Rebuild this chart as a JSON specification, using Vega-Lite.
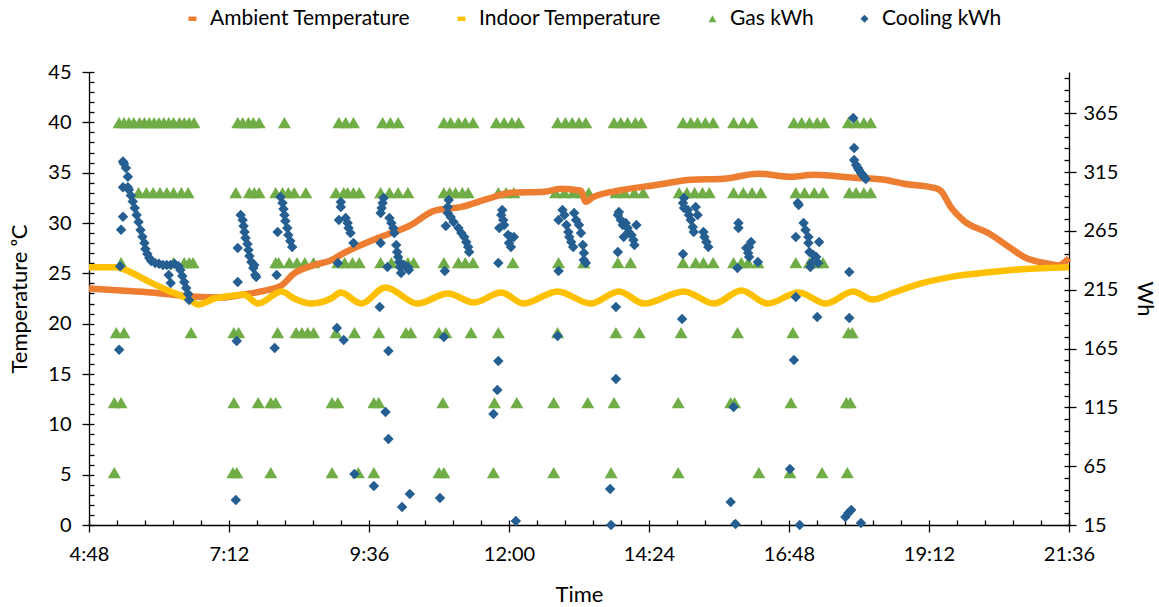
{
"$schema": "https://vega.github.io/schema/vega-lite/v6.json",
"width": 980, "height": 453,
"autosize": "none",
"padding": {"left": 89, "top": 72, "right": 90, "bottom": 81},
"background": "white",
"datasets": {
"amb": [{"t":288,"v":23.5},{"t":321,"v":23.3},{"t":352,"v":23.1},{"t":393,"v":22.7},{"t":424,"v":22.6},{"t":447,"v":22.9},{"t":470,"v":23.3},{"t":486,"v":23.8},{"t":499,"v":25.0},{"t":519,"v":25.8},{"t":537,"v":26.3},{"t":550,"v":27.0},{"t":585,"v":28.5},{"t":619,"v":29.8},{"t":643,"v":31.2},{"t":671,"v":31.6},{"t":698,"v":32.4},{"t":722,"v":33.0},{"t":756,"v":33.1},{"t":773,"v":33.4},{"t":794,"v":33.2},{"t":799,"v":32.1},{"t":807,"v":32.6},{"t":838,"v":33.3},{"t":873,"v":33.8},{"t":907,"v":34.3},{"t":941,"v":34.4},{"t":976,"v":34.9},{"t":1010,"v":34.6},{"t":1034,"v":34.8},{"t":1075,"v":34.5},{"t":1106,"v":34.3},{"t":1126,"v":33.9},{"t":1157,"v":33.5},{"t":1164,"v":33.2},{"t":1175,"v":31.5},{"t":1188,"v":30.2},{"t":1213,"v":29.0},{"t":1236,"v":27.5},{"t":1250,"v":26.6},{"t":1278,"v":25.9},{"t":1285,"v":25.8},{"t":1296,"v":26.5}],
"ind": [{"t":288,"v":25.6},{"t":316,"v":25.6},{"t":324,"v":25.4},{"t":349,"v":24.2},{"t":369,"v":23.3},{"t":393,"v":22.3},{"t":400,"v":21.9},{"t":417,"v":22.5},{"t":437,"v":22.8},{"t":447,"v":22.9},{"t":462,"v":22.0},{"t":486,"v":23.2},{"t":499,"v":22.5},{"t":516,"v":22.0},{"t":537,"v":22.5},{"t":547,"v":23.1},{"t":568,"v":22.0},{"t":593,"v":23.6},{"t":626,"v":22.0},{"t":657,"v":23.0},{"t":684,"v":22.1},{"t":712,"v":23.1},{"t":735,"v":22.0},{"t":770,"v":23.2},{"t":804,"v":22.0},{"t":833,"v":23.2},{"t":859,"v":22.0},{"t":900,"v":23.2},{"t":931,"v":22.0},{"t":959,"v":23.3},{"t":986,"v":22.0},{"t":1018,"v":23.1},{"t":1046,"v":22.0},{"t":1074,"v":23.2},{"t":1094,"v":22.4},{"t":1113,"v":23.0},{"t":1144,"v":24.0},{"t":1178,"v":24.7},{"t":1213,"v":25.1},{"t":1247,"v":25.4},{"t":1296,"v":25.6}],
"gas": [
{"t":319,"v":357,"s":"Gas kWh"},{"t":324,"v":357,"s":"Gas kWh"},{"t":329,"v":357,"s":"Gas kWh"},{"t":334,"v":357,"s":"Gas kWh"},{"t":340,"v":357,"s":"Gas kWh"},{"t":345,"v":357,"s":"Gas kWh"},{"t":350,"v":357,"s":"Gas kWh"},{"t":355,"v":357,"s":"Gas kWh"},{"t":360,"v":357,"s":"Gas kWh"},{"t":365,"v":357,"s":"Gas kWh"},{"t":370,"v":357,"s":"Gas kWh"},{"t":375,"v":357,"s":"Gas kWh"},{"t":381,"v":357,"s":"Gas kWh"},{"t":386,"v":357,"s":"Gas kWh"},{"t":391,"v":357,"s":"Gas kWh"},{"t":396,"v":357,"s":"Gas kWh"},{"t":441,"v":357,"s":"Gas kWh"},{"t":446,"v":357,"s":"Gas kWh"},{"t":452,"v":357,"s":"Gas kWh"},{"t":457,"v":357,"s":"Gas kWh"},{"t":463,"v":357,"s":"Gas kWh"},{"t":489,"v":357,"s":"Gas kWh"},{"t":545,"v":357,"s":"Gas kWh"},{"t":552,"v":357,"s":"Gas kWh"},{"t":560,"v":357,"s":"Gas kWh"},{"t":590,"v":357,"s":"Gas kWh"},{"t":598,"v":357,"s":"Gas kWh"},{"t":606,"v":357,"s":"Gas kWh"},{"t":653,"v":357,"s":"Gas kWh"},{"t":660,"v":357,"s":"Gas kWh"},{"t":668,"v":357,"s":"Gas kWh"},{"t":675,"v":357,"s":"Gas kWh"},{"t":683,"v":357,"s":"Gas kWh"},{"t":707,"v":357,"s":"Gas kWh"},{"t":715,"v":357,"s":"Gas kWh"},{"t":723,"v":357,"s":"Gas kWh"},{"t":730,"v":357,"s":"Gas kWh"},{"t":770,"v":357,"s":"Gas kWh"},{"t":778,"v":357,"s":"Gas kWh"},{"t":785,"v":357,"s":"Gas kWh"},{"t":792,"v":357,"s":"Gas kWh"},{"t":799,"v":357,"s":"Gas kWh"},{"t":828,"v":357,"s":"Gas kWh"},{"t":835,"v":357,"s":"Gas kWh"},{"t":842,"v":357,"s":"Gas kWh"},{"t":850,"v":357,"s":"Gas kWh"},{"t":856,"v":357,"s":"Gas kWh"},{"t":899,"v":357,"s":"Gas kWh"},{"t":907,"v":357,"s":"Gas kWh"},{"t":914,"v":357,"s":"Gas kWh"},{"t":922,"v":357,"s":"Gas kWh"},{"t":930,"v":357,"s":"Gas kWh"},{"t":951,"v":357,"s":"Gas kWh"},{"t":961,"v":357,"s":"Gas kWh"},{"t":970,"v":357,"s":"Gas kWh"},{"t":1013,"v":357,"s":"Gas kWh"},{"t":1021,"v":357,"s":"Gas kWh"},{"t":1029,"v":357,"s":"Gas kWh"},{"t":1037,"v":357,"s":"Gas kWh"},{"t":1044,"v":357,"s":"Gas kWh"},{"t":1069,"v":357,"s":"Gas kWh"},{"t":1077,"v":357,"s":"Gas kWh"},{"t":1085,"v":357,"s":"Gas kWh"},{"t":1092,"v":357,"s":"Gas kWh"},
{"t":339,"v":297.5,"s":"Gas kWh"},{"t":347,"v":297.5,"s":"Gas kWh"},{"t":354,"v":297.5,"s":"Gas kWh"},{"t":361,"v":297.5,"s":"Gas kWh"},{"t":368,"v":297.5,"s":"Gas kWh"},{"t":375,"v":297.5,"s":"Gas kWh"},{"t":383,"v":297.5,"s":"Gas kWh"},{"t":390,"v":297.5,"s":"Gas kWh"},{"t":439,"v":297.5,"s":"Gas kWh"},{"t":453,"v":297.5,"s":"Gas kWh"},{"t":458,"v":297.5,"s":"Gas kWh"},{"t":463,"v":297.5,"s":"Gas kWh"},{"t":480,"v":297.5,"s":"Gas kWh"},{"t":487,"v":297.5,"s":"Gas kWh"},{"t":493,"v":297.5,"s":"Gas kWh"},{"t":499,"v":297.5,"s":"Gas kWh"},{"t":511,"v":297.5,"s":"Gas kWh"},{"t":542,"v":297.5,"s":"Gas kWh"},{"t":550,"v":297.5,"s":"Gas kWh"},{"t":554,"v":297.5,"s":"Gas kWh"},{"t":560,"v":297.5,"s":"Gas kWh"},{"t":566,"v":297.5,"s":"Gas kWh"},{"t":588,"v":297.5,"s":"Gas kWh"},{"t":597,"v":297.5,"s":"Gas kWh"},{"t":606,"v":297.5,"s":"Gas kWh"},{"t":616,"v":297.5,"s":"Gas kWh"},{"t":653,"v":297.5,"s":"Gas kWh"},{"t":659,"v":297.5,"s":"Gas kWh"},{"t":665,"v":297.5,"s":"Gas kWh"},{"t":672,"v":297.5,"s":"Gas kWh"},{"t":678,"v":297.5,"s":"Gas kWh"},{"t":709,"v":297.5,"s":"Gas kWh"},{"t":717,"v":297.5,"s":"Gas kWh"},{"t":725,"v":297.5,"s":"Gas kWh"},{"t":768,"v":297.5,"s":"Gas kWh"},{"t":777,"v":297.5,"s":"Gas kWh"},{"t":786,"v":297.5,"s":"Gas kWh"},{"t":794,"v":297.5,"s":"Gas kWh"},{"t":802,"v":297.5,"s":"Gas kWh"},{"t":830,"v":297.5,"s":"Gas kWh"},{"t":839,"v":297.5,"s":"Gas kWh"},{"t":849,"v":297.5,"s":"Gas kWh"},{"t":858,"v":297.5,"s":"Gas kWh"},{"t":895,"v":297.5,"s":"Gas kWh"},{"t":903,"v":297.5,"s":"Gas kWh"},{"t":911,"v":297.5,"s":"Gas kWh"},{"t":919,"v":297.5,"s":"Gas kWh"},{"t":926,"v":297.5,"s":"Gas kWh"},{"t":951,"v":297.5,"s":"Gas kWh"},{"t":961,"v":297.5,"s":"Gas kWh"},{"t":970,"v":297.5,"s":"Gas kWh"},{"t":979,"v":297.5,"s":"Gas kWh"},{"t":1015,"v":297.5,"s":"Gas kWh"},{"t":1024,"v":297.5,"s":"Gas kWh"},{"t":1034,"v":297.5,"s":"Gas kWh"},{"t":1043,"v":297.5,"s":"Gas kWh"},{"t":1070,"v":297.5,"s":"Gas kWh"},{"t":1077,"v":297.5,"s":"Gas kWh"},{"t":1085,"v":297.5,"s":"Gas kWh"},{"t":1092,"v":297.5,"s":"Gas kWh"},
{"t":321,"v":238,"s":"Gas kWh"},{"t":375,"v":238,"s":"Gas kWh"},{"t":386,"v":238,"s":"Gas kWh"},{"t":391,"v":238,"s":"Gas kWh"},{"t":395,"v":238,"s":"Gas kWh"},{"t":480,"v":238,"s":"Gas kWh"},{"t":483,"v":238,"s":"Gas kWh"},{"t":494,"v":238,"s":"Gas kWh"},{"t":502,"v":238,"s":"Gas kWh"},{"t":510,"v":238,"s":"Gas kWh"},{"t":519,"v":238,"s":"Gas kWh"},{"t":544,"v":238,"s":"Gas kWh"},{"t":551,"v":238,"s":"Gas kWh"},{"t":559,"v":238,"s":"Gas kWh"},{"t":566,"v":238,"s":"Gas kWh"},{"t":588,"v":238,"s":"Gas kWh"},{"t":599,"v":238,"s":"Gas kWh"},{"t":609,"v":238,"s":"Gas kWh"},{"t":616,"v":238,"s":"Gas kWh"},{"t":622,"v":238,"s":"Gas kWh"},{"t":653,"v":238,"s":"Gas kWh"},{"t":668,"v":238,"s":"Gas kWh"},{"t":675,"v":238,"s":"Gas kWh"},{"t":683,"v":238,"s":"Gas kWh"},{"t":724,"v":238,"s":"Gas kWh"},{"t":771,"v":238,"s":"Gas kWh"},{"t":797,"v":238,"s":"Gas kWh"},{"t":832,"v":238,"s":"Gas kWh"},{"t":845,"v":238,"s":"Gas kWh"},{"t":899,"v":238,"s":"Gas kWh"},{"t":912,"v":238,"s":"Gas kWh"},{"t":920,"v":238,"s":"Gas kWh"},{"t":930,"v":238,"s":"Gas kWh"},{"t":951,"v":238,"s":"Gas kWh"},{"t":959,"v":238,"s":"Gas kWh"},{"t":966,"v":238,"s":"Gas kWh"},{"t":976,"v":238,"s":"Gas kWh"},{"t":1015,"v":238,"s":"Gas kWh"},{"t":1029,"v":238,"s":"Gas kWh"},{"t":1036,"v":238,"s":"Gas kWh"},{"t":1043,"v":238,"s":"Gas kWh"},
{"t":316,"v":178.5,"s":"Gas kWh"},{"t":324,"v":178.5,"s":"Gas kWh"},{"t":393,"v":178.5,"s":"Gas kWh"},{"t":437,"v":178.5,"s":"Gas kWh"},{"t":442,"v":178.5,"s":"Gas kWh"},{"t":482,"v":178.5,"s":"Gas kWh"},{"t":501,"v":178.5,"s":"Gas kWh"},{"t":507,"v":178.5,"s":"Gas kWh"},{"t":513,"v":178.5,"s":"Gas kWh"},{"t":519,"v":178.5,"s":"Gas kWh"},{"t":542,"v":178.5,"s":"Gas kWh"},{"t":561,"v":178.5,"s":"Gas kWh"},{"t":586,"v":178.5,"s":"Gas kWh"},{"t":614,"v":178.5,"s":"Gas kWh"},{"t":619,"v":178.5,"s":"Gas kWh"},{"t":648,"v":178.5,"s":"Gas kWh"},{"t":655,"v":178.5,"s":"Gas kWh"},{"t":681,"v":178.5,"s":"Gas kWh"},{"t":709,"v":178.5,"s":"Gas kWh"},{"t":770,"v":178.5,"s":"Gas kWh"},{"t":830,"v":178.5,"s":"Gas kWh"},{"t":854,"v":178.5,"s":"Gas kWh"},{"t":897,"v":178.5,"s":"Gas kWh"},{"t":955,"v":178.5,"s":"Gas kWh"},{"t":1012,"v":178.5,"s":"Gas kWh"},{"t":1069,"v":178.5,"s":"Gas kWh"},{"t":1073,"v":178.5,"s":"Gas kWh"},
{"t":314,"v":119,"s":"Gas kWh"},{"t":321,"v":119,"s":"Gas kWh"},{"t":437,"v":119,"s":"Gas kWh"},{"t":462,"v":119,"s":"Gas kWh"},{"t":475,"v":119,"s":"Gas kWh"},{"t":480,"v":119,"s":"Gas kWh"},{"t":538,"v":119,"s":"Gas kWh"},{"t":544,"v":119,"s":"Gas kWh"},{"t":581,"v":119,"s":"Gas kWh"},{"t":586,"v":119,"s":"Gas kWh"},{"t":652,"v":119,"s":"Gas kWh"},{"t":705,"v":119,"s":"Gas kWh"},{"t":728,"v":119,"s":"Gas kWh"},{"t":766,"v":119,"s":"Gas kWh"},{"t":801,"v":119,"s":"Gas kWh"},{"t":828,"v":119,"s":"Gas kWh"},{"t":894,"v":119,"s":"Gas kWh"},{"t":948,"v":119,"s":"Gas kWh"},{"t":952,"v":119,"s":"Gas kWh"},{"t":1010,"v":119,"s":"Gas kWh"},{"t":1067,"v":119,"s":"Gas kWh"},{"t":1071,"v":119,"s":"Gas kWh"},
{"t":314,"v":59.5,"s":"Gas kWh"},{"t":436,"v":59.5,"s":"Gas kWh"},{"t":440,"v":59.5,"s":"Gas kWh"},{"t":475,"v":59.5,"s":"Gas kWh"},{"t":538,"v":59.5,"s":"Gas kWh"},{"t":565,"v":59.5,"s":"Gas kWh"},{"t":581,"v":59.5,"s":"Gas kWh"},{"t":648,"v":59.5,"s":"Gas kWh"},{"t":653,"v":59.5,"s":"Gas kWh"},{"t":704,"v":59.5,"s":"Gas kWh"},{"t":766,"v":59.5,"s":"Gas kWh"},{"t":825,"v":59.5,"s":"Gas kWh"},{"t":894,"v":59.5,"s":"Gas kWh"},{"t":977,"v":59.5,"s":"Gas kWh"},{"t":1009,"v":59.5,"s":"Gas kWh"},{"t":1042,"v":59.5,"s":"Gas kWh"},{"t":1068,"v":59.5,"s":"Gas kWh"}
],
"cool": [
{"t":319,"v":164,"s":"Cooling kWh"},{"t":320,"v":235,"s":"Cooling kWh"},{"t":321,"v":266,"s":"Cooling kWh"},{"t":323,"v":277,"s":"Cooling kWh"},{"t":323,"v":324,"s":"Cooling kWh"},{"t":324,"v":322,"s":"Cooling kWh"},{"t":326,"v":318.5,"s":"Cooling kWh"},{"t":328,"v":311,"s":"Cooling kWh"},{"t":323,"v":302,"s":"Cooling kWh"},{"t":328,"v":302,"s":"Cooling kWh"},{"t":329,"v":300,"s":"Cooling kWh"},{"t":331,"v":295,"s":"Cooling kWh"},{"t":333,"v":290,"s":"Cooling kWh"},{"t":335,"v":284.5,"s":"Cooling kWh"},{"t":337,"v":278.5,"s":"Cooling kWh"},{"t":339,"v":272.6,"s":"Cooling kWh"},{"t":341,"v":265.8,"s":"Cooling kWh"},{"t":343,"v":260,"s":"Cooling kWh"},{"t":345,"v":254.7,"s":"Cooling kWh"},{"t":346,"v":249.6,"s":"Cooling kWh"},{"t":348,"v":245.4,"s":"Cooling kWh"},{"t":350,"v":242,"s":"Cooling kWh"},{"t":352,"v":239.4,"s":"Cooling kWh"},{"t":356,"v":237.7,"s":"Cooling kWh"},{"t":360,"v":237,"s":"Cooling kWh"},{"t":364,"v":236,"s":"Cooling kWh"},{"t":368,"v":236,"s":"Cooling kWh"},{"t":372,"v":236,"s":"Cooling kWh"},{"t":376,"v":237,"s":"Cooling kWh"},{"t":380,"v":235,"s":"Cooling kWh"},{"t":370,"v":227.5,"s":"Cooling kWh"},{"t":372,"v":220.7,"s":"Cooling kWh"},{"t":382,"v":231.8,"s":"Cooling kWh"},{"t":384,"v":226.7,"s":"Cooling kWh"},{"t":386,"v":221.6,"s":"Cooling kWh"},{"t":388,"v":216.5,"s":"Cooling kWh"},{"t":390,"v":211.4,"s":"Cooling kWh"},{"t":391,"v":206.3,"s":"Cooling kWh"},
{"t":444,"v":278.5,"s":"Cooling kWh"},{"t":446,"v":274.3,"s":"Cooling kWh"},{"t":447,"v":269.2,"s":"Cooling kWh"},{"t":448,"v":264,"s":"Cooling kWh"},{"t":449,"v":259,"s":"Cooling kWh"},{"t":451,"v":253.9,"s":"Cooling kWh"},{"t":452,"v":248.8,"s":"Cooling kWh"},{"t":453,"v":243.7,"s":"Cooling kWh"},{"t":455,"v":238.6,"s":"Cooling kWh"},{"t":457,"v":233.5,"s":"Cooling kWh"},{"t":459,"v":227.5,"s":"Cooling kWh"},{"t":441,"v":250.5,"s":"Cooling kWh"},{"t":441,"v":221.6,"s":"Cooling kWh"},{"t":458,"v":236,"s":"Cooling kWh"},{"t":460,"v":225.8,"s":"Cooling kWh"},{"t":440,"v":171.4,"s":"Cooling kWh"},{"t":439,"v":36.3,"s":"Cooling kWh"},
{"t":485,"v":293.8,"s":"Cooling kWh"},{"t":487,"v":288.7,"s":"Cooling kWh"},{"t":488,"v":283.6,"s":"Cooling kWh"},{"t":489,"v":278.5,"s":"Cooling kWh"},{"t":490,"v":273.4,"s":"Cooling kWh"},{"t":492,"v":267.5,"s":"Cooling kWh"},{"t":493,"v":261.5,"s":"Cooling kWh"},{"t":495,"v":256.4,"s":"Cooling kWh"},{"t":497,"v":251.3,"s":"Cooling kWh"},{"t":482,"v":264,"s":"Cooling kWh"},{"t":481,"v":227.5,"s":"Cooling kWh"},{"t":479,"v":165.5,"s":"Cooling kWh"},
{"t":547,"v":289.6,"s":"Cooling kWh"},{"t":547,"v":285.3,"s":"Cooling kWh"},{"t":545,"v":274.3,"s":"Cooling kWh"},{"t":552,"v":276,"s":"Cooling kWh"},{"t":554,"v":271.7,"s":"Cooling kWh"},{"t":555,"v":267.5,"s":"Cooling kWh"},{"t":557,"v":263.2,"s":"Cooling kWh"},{"t":560,"v":254.7,"s":"Cooling kWh"},{"t":544,"v":237.7,"s":"Cooling kWh"},{"t":543,"v":182.5,"s":"Cooling kWh"},{"t":550,"v":172.3,"s":"Cooling kWh"},{"t":561,"v":58.4,"s":"Cooling kWh"},
{"t":591,"v":293,"s":"Cooling kWh"},{"t":590,"v":288.7,"s":"Cooling kWh"},{"t":589,"v":284.5,"s":"Cooling kWh"},{"t":588,"v":280.2,"s":"Cooling kWh"},{"t":597,"v":276,"s":"Cooling kWh"},{"t":599,"v":271.7,"s":"Cooling kWh"},{"t":601,"v":267.5,"s":"Cooling kWh"},{"t":602,"v":263.2,"s":"Cooling kWh"},{"t":604,"v":253,"s":"Cooling kWh"},{"t":605,"v":247,"s":"Cooling kWh"},{"t":606,"v":242.8,"s":"Cooling kWh"},{"t":607,"v":238.6,"s":"Cooling kWh"},{"t":608,"v":234.3,"s":"Cooling kWh"},{"t":609,"v":229.2,"s":"Cooling kWh"},{"t":612,"v":236,"s":"Cooling kWh"},{"t":616,"v":234.3,"s":"Cooling kWh"},{"t":617,"v":231.8,"s":"Cooling kWh"},{"t":588,"v":254.7,"s":"Cooling kWh"},{"t":595,"v":234.3,"s":"Cooling kWh"},{"t":587,"v":200.3,"s":"Cooling kWh"},{"t":596,"v":162.9,"s":"Cooling kWh"},{"t":593,"v":111,"s":"Cooling kWh"},{"t":596,"v":88.1,"s":"Cooling kWh"},{"t":581,"v":48.2,"s":"Cooling kWh"},{"t":610,"v":30.3,"s":"Cooling kWh"},{"t":618,"v":41.4,"s":"Cooling kWh"},
{"t":658,"v":291.3,"s":"Cooling kWh"},{"t":657,"v":285.3,"s":"Cooling kWh"},{"t":657,"v":280.2,"s":"Cooling kWh"},{"t":660,"v":276.8,"s":"Cooling kWh"},{"t":663,"v":272.6,"s":"Cooling kWh"},{"t":668,"v":267.5,"s":"Cooling kWh"},{"t":671,"v":263.2,"s":"Cooling kWh"},{"t":674,"v":259.8,"s":"Cooling kWh"},{"t":676,"v":255.6,"s":"Cooling kWh"},{"t":678,"v":251.3,"s":"Cooling kWh"},{"t":679,"v":247,"s":"Cooling kWh"},{"t":655,"v":269.2,"s":"Cooling kWh"},{"t":654,"v":230.9,"s":"Cooling kWh"},{"t":653,"v":174.8,"s":"Cooling kWh"},{"t":649,"v":38,"s":"Cooling kWh"},
{"t":713,"v":282.8,"s":"Cooling kWh"},{"t":712,"v":278.5,"s":"Cooling kWh"},{"t":714,"v":274.3,"s":"Cooling kWh"},{"t":715,"v":270,"s":"Cooling kWh"},{"t":710,"v":267.5,"s":"Cooling kWh"},{"t":719,"v":261.5,"s":"Cooling kWh"},{"t":722,"v":259.8,"s":"Cooling kWh"},{"t":725,"v":259.8,"s":"Cooling kWh"},{"t":722,"v":251.3,"s":"Cooling kWh"},{"t":720,"v":254.7,"s":"Cooling kWh"},{"t":709,"v":237.7,"s":"Cooling kWh"},{"t":709,"v":154.4,"s":"Cooling kWh"},{"t":708,"v":129.8,"s":"Cooling kWh"},{"t":704,"v":109.4,"s":"Cooling kWh"},{"t":727,"v":18.4,"s":"Cooling kWh"},
{"t":775,"v":282.8,"s":"Cooling kWh"},{"t":771,"v":274.3,"s":"Cooling kWh"},{"t":777,"v":278.5,"s":"Cooling kWh"},{"t":779,"v":270,"s":"Cooling kWh"},{"t":781,"v":264,"s":"Cooling kWh"},{"t":782,"v":259.8,"s":"Cooling kWh"},{"t":784,"v":255.6,"s":"Cooling kWh"},{"t":786,"v":251.3,"s":"Cooling kWh"},{"t":787,"v":280.2,"s":"Cooling kWh"},{"t":789,"v":274.3,"s":"Cooling kWh"},{"t":792,"v":270,"s":"Cooling kWh"},{"t":794,"v":263.2,"s":"Cooling kWh"},{"t":796,"v":253,"s":"Cooling kWh"},{"t":797,"v":246.2,"s":"Cooling kWh"},{"t":797,"v":240.3,"s":"Cooling kWh"},{"t":799,"v":237.7,"s":"Cooling kWh"},{"t":771,"v":230.9,"s":"Cooling kWh"},{"t":770,"v":175.7,"s":"Cooling kWh"},
{"t":833,"v":281,"s":"Cooling kWh"},{"t":832,"v":278.5,"s":"Cooling kWh"},{"t":835,"v":274.3,"s":"Cooling kWh"},{"t":837,"v":270,"s":"Cooling kWh"},{"t":840,"v":271.7,"s":"Cooling kWh"},{"t":842,"v":267.5,"s":"Cooling kWh"},{"t":843,"v":264,"s":"Cooling kWh"},{"t":846,"v":261.5,"s":"Cooling kWh"},{"t":848,"v":257.3,"s":"Cooling kWh"},{"t":849,"v":253,"s":"Cooling kWh"},{"t":838,"v":259.8,"s":"Cooling kWh"},{"t":851,"v":270,"s":"Cooling kWh"},{"t":832,"v":247,"s":"Cooling kWh"},{"t":830,"v":200.3,"s":"Cooling kWh"},{"t":830,"v":139.1,"s":"Cooling kWh"},{"t":824,"v":45.6,"s":"Cooling kWh"},{"t":825,"v":15,"s":"Cooling kWh"},
{"t":900,"v":293,"s":"Cooling kWh"},{"t":899,"v":288.7,"s":"Cooling kWh"},{"t":900,"v":284.5,"s":"Cooling kWh"},{"t":904,"v":282.8,"s":"Cooling kWh"},{"t":905,"v":278.5,"s":"Cooling kWh"},{"t":912,"v":285.3,"s":"Cooling kWh"},{"t":914,"v":278.5,"s":"Cooling kWh"},{"t":907,"v":274.3,"s":"Cooling kWh"},{"t":909,"v":268.3,"s":"Cooling kWh"},{"t":910,"v":264,"s":"Cooling kWh"},{"t":920,"v":264,"s":"Cooling kWh"},{"t":921,"v":259.8,"s":"Cooling kWh"},{"t":923,"v":255.6,"s":"Cooling kWh"},{"t":925,"v":251.3,"s":"Cooling kWh"},{"t":899,"v":245.4,"s":"Cooling kWh"},{"t":898,"v":190.1,"s":"Cooling kWh"},
{"t":956,"v":271.7,"s":"Cooling kWh"},{"t":956,"v":267.5,"s":"Cooling kWh"},{"t":969,"v":255.6,"s":"Cooling kWh"},{"t":967,"v":251.3,"s":"Cooling kWh"},{"t":964,"v":250.5,"s":"Cooling kWh"},{"t":966,"v":246.2,"s":"Cooling kWh"},{"t":967,"v":242.8,"s":"Cooling kWh"},{"t":976,"v":238.6,"s":"Cooling kWh"},{"t":955,"v":233.5,"s":"Cooling kWh"},{"t":951,"v":115.3,"s":"Cooling kWh"},{"t":948,"v":34.6,"s":"Cooling kWh"},{"t":953,"v":15.9,"s":"Cooling kWh"},
{"t":1017,"v":288.7,"s":"Cooling kWh"},{"t":1018,"v":287,"s":"Cooling kWh"},{"t":1023,"v":271.7,"s":"Cooling kWh"},{"t":1025,"v":265.8,"s":"Cooling kWh"},{"t":1028,"v":259.8,"s":"Cooling kWh"},{"t":1015,"v":259.8,"s":"Cooling kWh"},{"t":1028,"v":254.7,"s":"Cooling kWh"},{"t":1029,"v":247,"s":"Cooling kWh"},{"t":1033,"v":244.5,"s":"Cooling kWh"},{"t":1036,"v":242.8,"s":"Cooling kWh"},{"t":1039,"v":255.6,"s":"Cooling kWh"},{"t":1031,"v":237.7,"s":"Cooling kWh"},{"t":1038,"v":237.7,"s":"Cooling kWh"},{"t":1030,"v":234.3,"s":"Cooling kWh"},{"t":1015,"v":208.8,"s":"Cooling kWh"},{"t":1013,"v":155.3,"s":"Cooling kWh"},{"t":1037,"v":191.8,"s":"Cooling kWh"},{"t":1009,"v":62.6,"s":"Cooling kWh"},{"t":1019,"v":15,"s":"Cooling kWh"},
{"t":1074,"v":361,"s":"Cooling kWh"},{"t":1075,"v":335.5,"s":"Cooling kWh"},{"t":1075,"v":325.3,"s":"Cooling kWh"},{"t":1077,"v":321,"s":"Cooling kWh"},{"t":1079,"v":318.5,"s":"Cooling kWh"},{"t":1080,"v":316.8,"s":"Cooling kWh"},{"t":1082,"v":314.2,"s":"Cooling kWh"},{"t":1084,"v":312.5,"s":"Cooling kWh"},{"t":1085,"v":310.8,"s":"Cooling kWh"},{"t":1087,"v":309.1,"s":"Cooling kWh"},{"t":1070,"v":230,"s":"Cooling kWh"},{"t":1070,"v":191,"s":"Cooling kWh"},{"t":1066,"v":21.8,"s":"Cooling kWh"},{"t":1069,"v":25.2,"s":"Cooling kWh"},{"t":1072,"v":27.8,"s":"Cooling kWh"},{"t":1082,"v":16.7,"s":"Cooling kWh"}
]
},
"resolve": {"scale": {"x": "independent", "y": "independent"}, "axis": {"x": "independent", "y": "independent"}},
"layer": [
{"data": {"name": "gas"}, "mark": {"type": "point", "filled": true, "size": 170, "opacity": 1},
 "encoding": {
  "x": {"field": "t", "type": "quantitative", "scale": {"domain": [288, 1296], "nice": false, "zero": false},
        "axis": {"orient": "bottom", "values": [288,432,576,720,864,1008,1152,1296], "labelExpr": "floor(datum.value/60) + ':' + pad(datum.value % 60, 2, '0', 'left')", "tickSize": 7, "labelPadding": 12, "title": "Time", "titlePadding": 20, "domain": true}},
  "y": {"field": "v", "type": "quantitative", "scale": {"domain": [15, 400], "nice": false, "zero": false},
        "axis": {"orient": "right", "values": [15,65,115,165,215,265,315,365], "tickSize": 7, "labelPadding": 7, "title": "Wh", "titlePadding": 15, "domain": true}},
  "color": {"field": "s", "type": "nominal", "title": null, "scale": {"domain": ["Ambient Temperature","Indoor Temperature","Gas kWh","Cooling kWh"], "range": ["#ED7D31","#FFC000","#70AD47","#255E91"]}},
  "shape": {"field": "s", "type": "nominal", "title": null, "scale": {"domain": ["Ambient Temperature","Indoor Temperature","Gas kWh","Cooling kWh"], "range": ["M-1,-0.55L1,-0.55L1,0.55L-1,0.55Z","M-1,-0.55L1,-0.55L1,0.55L-1,0.55Z","triangle-up","diamond"]}}
 }},
{"data": {"name": "amb"}, "mark": {"type": "line", "color": "#ED7D31", "strokeWidth": 6.5, "interpolate": "monotone"},
 "encoding": {
  "x": {"field": "t", "type": "quantitative", "scale": {"domain": [288, 1296], "nice": false, "zero": false}, "axis": null},
  "y": {"field": "v", "type": "quantitative", "scale": {"domain": [0, 45], "nice": false, "zero": false},
        "axis": {"orient": "left", "values": [0,5,10,15,20,25,30,35,40,45], "tickSize": 7, "labelPadding": 11, "title": "Temperature ᵒC", "titlePadding": 16, "domain": true}}
 }},
{"data": {"name": "ind"}, "mark": {"type": "line", "color": "#FFC000", "strokeWidth": 6.5, "interpolate": "monotone"},
 "encoding": {
  "x": {"field": "t", "type": "quantitative", "scale": {"domain": [288, 1296], "nice": false, "zero": false}, "axis": null},
  "y": {"field": "v", "type": "quantitative", "scale": {"domain": [0, 45], "nice": false, "zero": false}, "axis": null}
 }},
{"data": {"name": "cool"}, "mark": {"type": "point", "filled": true, "size": 110, "opacity": 1},
 "encoding": {
  "x": {"field": "t", "type": "quantitative", "scale": {"domain": [288, 1296], "nice": false, "zero": false}, "axis": null},
  "y": {"field": "v", "type": "quantitative", "scale": {"domain": [15, 400], "nice": false, "zero": false}, "axis": null},
  "color": {"field": "s", "type": "nominal", "title": null, "scale": {"domain": ["Ambient Temperature","Indoor Temperature","Gas kWh","Cooling kWh"], "range": ["#ED7D31","#FFC000","#70AD47","#255E91"]}},
  "shape": {"field": "s", "type": "nominal", "title": null, "scale": {"domain": ["Ambient Temperature","Indoor Temperature","Gas kWh","Cooling kWh"], "range": ["M-1,-0.55L1,-0.55L1,0.55L-1,0.55Z","M-1,-0.55L1,-0.55L1,0.55L-1,0.55Z","triangle-up","diamond"]}}
 }},
{"data": {"name": "amb"}, "mark": {"type": "point", "opacity": 0},
 "encoding": {
  "x": {"field": "t", "type": "quantitative", "scale": {"domain": [288, 1296], "nice": false, "zero": false},
        "axis": {"orient": "bottom", "values": [288,432,576,720,864,1008,1152,1296], "tickSize": 5, "offset": -5, "labels": false, "domain": false, "title": null}},
  "y": {"field": "v", "type": "quantitative", "scale": {"domain": [0, 45], "nice": false, "zero": false},
        "axis": {"orient": "left", "values": [0,5,10,15,20,25,30,35,40,45], "tickSize": 5, "offset": -5, "labels": false, "domain": false, "title": null}}
 }},
{"data": {"name": "amb"}, "mark": {"type": "point", "opacity": 0},
 "encoding": {
  "x": {"field": "t", "type": "quantitative", "scale": {"domain": [288, 1296], "nice": false, "zero": false},
        "axis": {"orient": "bottom", "values": [316.8,345.6,374.4,403.2,460.8,489.6,518.4,547.2,604.8,633.6,662.4,691.2,748.8,777.6,806.4,835.2,892.8,921.6,950.4,979.2,1036.8,1065.6,1094.4,1123.2,1180.8,1209.6,1238.4,1267.2], "tickSize": 5, "offset": -5, "labels": false, "domain": false, "title": null}},
  "y": {"field": "v", "type": "quantitative", "scale": {"domain": [0, 45], "nice": false, "zero": false},
        "axis": {"orient": "left", "values": [1,2,3,4,6,7,8,9,11,12,13,14,16,17,18,19,21,22,23,24,26,27,28,29,31,32,33,34,36,37,38,39,41,42,43,44], "tickSize": 5, "offset": -5, "labels": false, "domain": false, "title": null}}
 }},
{"data": {"name": "cool"}, "mark": {"type": "point", "opacity": 0},
 "encoding": {
  "x": {"field": "t", "type": "quantitative", "scale": {"domain": [288, 1296], "nice": false, "zero": false}, "axis": null},
  "y": {"field": "v", "type": "quantitative", "scale": {"domain": [15, 400], "nice": false, "zero": false},
        "axis": {"orient": "right", "values": [15,65,115,165,215,265,315,365], "tickSize": 5, "offset": -5, "labels": false, "domain": false, "title": null}}
 }},
{"data": {"name": "cool"}, "mark": {"type": "point", "opacity": 0},
 "encoding": {
  "x": {"field": "t", "type": "quantitative", "scale": {"domain": [288, 1296], "nice": false, "zero": false}, "axis": null},
  "y": {"field": "v", "type": "quantitative", "scale": {"domain": [15, 400], "nice": false, "zero": false},
        "axis": {"orient": "right", "values": [25,35,45,55,75,85,95,105,125,135,145,155,175,185,195,205,225,235,245,255,275,285,295,305,325,335,345,355,375,385,395], "tickSize": 5, "offset": -5, "labels": false, "domain": false, "title": null}}
 }}
],
"config": {
 "view": {"stroke": null},
 "font": "Lato",
 "axis": {"grid": false, "labelFont": "Lato", "labelFontSize": 20, "labelColor": "#000000", "titleFont": "Lato", "titleFontSize": 22, "titleFontWeight": "normal", "titleColor": "#000000", "tickColor": "#000000", "tickWidth": 1.3, "domainColor": "#000000", "domainWidth": 1.3, "labelFlush": false, "labelOverlap": false, "labelBound": false},
 "legend": {"orient": "none", "legendX": 93, "legendY": -64, "direction": "horizontal", "labelFont": "Lato", "labelFontSize": 21, "labelLimit": 400, "labelColor": "#000000", "symbolSize": 64, "symbolStrokeWidth": 0, "labelOffset": 7, "columnPadding": 40, "padding": 0}
}
}
